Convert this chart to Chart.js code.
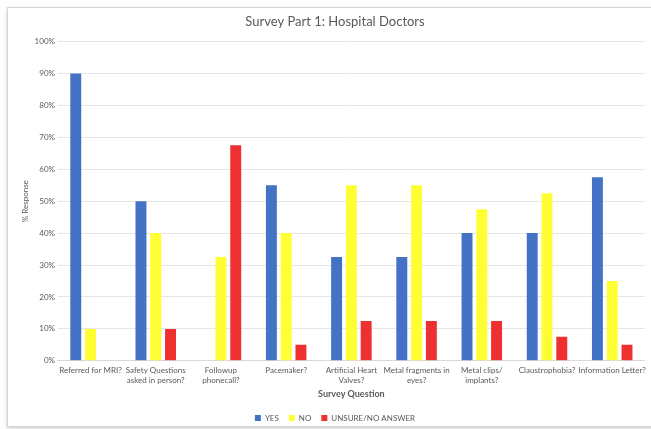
<!DOCTYPE html>
<html>
<head>
<meta charset="utf-8">
<script src="https://cdn.jsdelivr.net/npm/chart.js@4/dist/chart.umd.min.js"></script>
<style>
  html, body { margin: 0; padding: 0; background: #fff; overflow: hidden; }
  #frame {
    position: absolute; left: 7px; top: 7px; width: 650px; height: 418px;
    border: 1px solid #d4d4d4; box-shadow: 0 2px 4px rgba(0,0,0,0.18);
    background: #fff;
  }
  #wrap { position: absolute; left: 0; top: 0; width: 651px; height: 429px; }
</style>
</head>
<body>
<div id="frame"></div>
<div id="wrap"><canvas id="c" width="651" height="429"></canvas></div>
<script>
// Survey questions (x-axis categories)
const questions = [
  'Referred for MRI?',
  ['Safety Questions', 'asked in person?'],
  ['Followup', 'phonecall?'],
  'Pacemaker?',
  ['Artificial Heart', 'Valves?'],
  ['Metal fragments in', 'eyes?'],
  ['Metal clips/', 'implants?'],
  'Claustrophobia?',
  'Information Letter?'
];

// Percentage of responses per answer
const yesValues     = [90, 50, 0, 55, 32.5, 32.5, 40, 40, 57.5];
const noValues      = [10, 40, 32.5, 40, 55, 55, 47.5, 52.5, 25];
const unsureValues  = [0, 10, 67.5, 5, 12.5, 12.5, 12.5, 7.5, 5];

const seriesNames = ['YES', 'NO', 'UNSURE/NO ANSWER'];
const seriesColors = ['#4472C4', '#FFFF33', '#EE3030'];

const textColor = '#595959';
const fontFamily = 'Lato, "Open Sans", sans-serif';

new Chart(document.getElementById('c'), {
  type: 'bar',
  data: {
    labels: questions,
    datasets: [yesValues, noValues, unsureValues].map((vals, i) => ({
      label: seriesNames[i],
      data: vals,
      backgroundColor: seriesColors[i],
      borderWidth: 0,
      categoryPercentage: 0.68,
      barPercentage: 0.74
    }))
  },
  options: {
    responsive: false,
    animation: false,
    layout: { padding: { left: 21, right: 2, top: 4, bottom: -3 } },
    plugins: {
      title: {
        display: true,
        text: 'Survey Part 1: Hospital Doctors',
        color: textColor,
        font: { family: fontFamily, size: 13, weight: 'normal' },
        padding: { top: 10, bottom: 12 }
      },
      legend: {
        position: 'bottom',
        labels: {
          color: textColor,
          font: { family: fontFamily, size: 8 },
          boxWidth: 6, boxHeight: 6, padding: 10
        }
      },
      tooltip: { enabled: false }
    },
    scales: {
      x: {
        grid: { display: false, drawTicks: false, tickLength: 0 },
        border: { color: '#d9d9d9' },
        ticks: {
          color: textColor, maxRotation: 0, autoSkip: false,
          font: { family: fontFamily, size: 8 }, padding: 5
        },
        title: {
          display: true, text: 'Survey Question', color: textColor,
          font: { family: fontFamily, size: 9, weight: 'bold', lineHeight: 1 },
          padding: { top: 0, bottom: 5 }
        }
      },
      y: {
        min: 0, max: 100,
        grid: { color: '#e6e6e6', drawTicks: false },
        border: { display: false },
        ticks: {
          stepSize: 10, color: textColor, padding: 3,
          font: { family: fontFamily, size: 8 },
          callback: v => v + '%'
        },
        title: {
          display: true, text: '% Response', color: textColor,
          font: { family: fontFamily, size: 8 },
          padding: { top: 0, bottom: 1 }
        }
      }
    }
  }
});
</script>
</body>
</html>
